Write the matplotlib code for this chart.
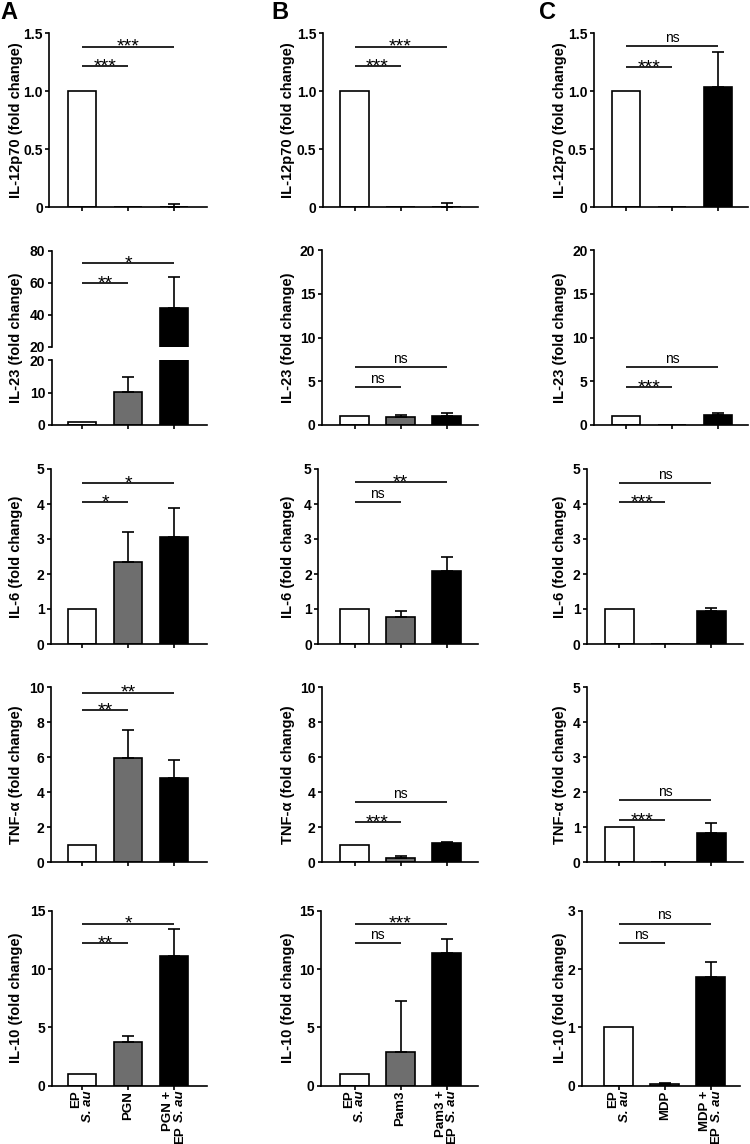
import matplotlib.pyplot as plt
import numpy as np

plt.rcParams['font.family'] = ['Liberation Sans', 'DejaVu Sans']
plt.rcParams['font.weight'] = 'bold'

# --- data (fold change, mean and upper error) ---
# x labels: lines of (text, italic?) pieces
labels_A = [[[("EP", False)], [("S. au", True)]], [[("PGN", False)]],
            [[("PGN +", False)], [("EP", False), ("S. au", True)]]]
labels_B = [[[("EP", False)], [("S. au", True)]], [[("Pam3", False)]],
            [[("Pam3 +", False)], [("EP", False), ("S. au", True)]]]
labels_C = [[[("EP", False)], [("S. au", True)]], [[("MDP", False)]],
            [[("MDP +", False)], [("EP", False), ("S. au", True)]]]

cytokines = ["IL-12p70", "IL-23", "IL-6", "TNF-α", "IL-10"]

il12_A = [1.0, 0.0, 0.005];  il12_A_err = [0.0, 0.0, 0.02]
il12_B = [1.0, 0.0, 0.005];  il12_B_err = [0.0, 0.0, 0.035]
il12_C = [1.0, 0.0, 1.04];   il12_C_err = [0.0, 0.0, 0.30]

il23_A = [0.8, 10.3, 44.0];  il23_A_err = [0.0, 4.5, 19.5]
il23_B = [1.0, 0.95, 1.0];   il23_B_err = [0.0, 0.25, 0.4]
il23_C = [1.0, 0.0, 1.2];    il23_C_err = [0.0, 0.0, 0.2]

il6_A = [1.0, 2.35, 3.05];   il6_A_err = [0.0, 0.85, 0.85]
il6_B = [1.0, 0.77, 2.1];    il6_B_err = [0.0, 0.16, 0.4]
il6_C = [1.0, 0.0, 0.93];    il6_C_err = [0.0, 0.0, 0.1]

tnf_A = [1.0, 5.95, 4.8];    tnf_A_err = [0.0, 1.6, 1.05]
tnf_B = [1.0, 0.22, 1.1];    tnf_B_err = [0.0, 0.13, 0.08]
tnf_C = [1.0, 0.0, 0.85];    tnf_C_err = [0.0, 0.0, 0.26]

il10_A = [1.0, 3.75, 11.1];  il10_A_err = [0.0, 0.55, 2.3]
il10_B = [1.0, 2.9, 11.35];  il10_B_err = [0.0, 4.35, 1.2]
il10_C = [1.0, 0.03, 1.87];  il10_C_err = [0.0, 0.01, 0.25]

# significance brackets: (from, to, height, label)
sig_il12_A = [(0, 1, 1.215, "***"), (0, 2, 1.385, "***")]
sig_il12_B = [(0, 1, 1.215, "***"), (0, 2, 1.385, "***")]
sig_il12_C = [(0, 1, 1.21, "***"), (0, 2, 1.39, "ns")]
sig_il23_A = [(0, 1, 60, "**"), (0, 2, 72.5, "*")]
sig_il23_B = [(0, 1, 4.3, "ns"), (0, 2, 6.66, "ns")]
sig_il23_C = [(0, 1, 4.3, "***"), (0, 2, 6.66, "ns")]
sig_il6_A = [(0, 1, 4.05, "*"), (0, 2, 4.6, "*")]
sig_il6_B = [(0, 1, 4.06, "ns"), (0, 2, 4.63, "**")]
sig_il6_C = [(0, 1, 4.05, "***"), (0, 2, 4.6, "ns")]
sig_tnf_A = [(0, 1, 8.7, "**"), (0, 2, 9.7, "**")]
sig_tnf_B = [(0, 1, 2.3, "***"), (0, 2, 3.43, "ns")]
sig_tnf_C = [(0, 1, 1.2, "***"), (0, 2, 1.77, "ns")]
sig_il10_A = [(0, 1, 12.2, "**"), (0, 2, 13.9, "*")]
sig_il10_B = [(0, 1, 12.2, "ns"), (0, 2, 13.9, "***")]
sig_il10_C = [(0, 1, 2.45, "ns"), (0, 2, 2.78, "ns")]

yticks_il12 = [0, 0.5, 1.0, 1.5]
yticks_il23 = [0, 5, 10, 15, 20]
yticks_il23_low = [0, 10, 20]
yticks_il23_high = [20, 40, 60, 80]
yticks_il6 = [0, 1, 2, 3, 4, 5]
yticks_tnf = [0, 2, 4, 6, 8, 10]
yticks_tnf_C = [0, 1, 2, 3, 4, 5]
yticks_il10 = [0, 5, 10, 15]
yticks_il10_C = [0, 1, 2, 3]

bar_colors = ['white', '#6e6e6e', 'black']

# --- layout (pixels) ---
W, H = 750, 1144
row_top = [33.3, 250.3, 469.0, 687.4, 910.7]
row_bot = [207.3, 425.0, 644.0, 862.3, 1085.7]
spacing = 46.0
col_left = {"A": [49.3, 51.7, 51.0, 51.0, 51.7],
            "B": [322.7, 321.7, 318.3, 321.7, 320.7],
            "C": [594.0, 594.0, 587.0, 587.0, 581.7]}
col_right = {"A": [206.5] * 5, "B": [478.0] * 5,
             "C": [748.0, 748.0, 742.5, 742.5, 740.0]}
col_bar0 = {"A": [82.0] * 5, "B": [354.5] * 5,
            "C": [626.0, 626.0, 619.3, 619.3, 618.7]}
ylabel_right = {"A": 23.0, "B": 295.0, "C": 567.0}
letter_x = {"A": 0.0, "B": 271.0, "C": 539.0}

LW = 1.2
XFS = 9.5
fig = plt.figure(figsize=(W / 100, H / 100), dpi=100)
renderer = fig.canvas.get_renderer()


def make_axes(col, row, top=None, bot=None):
    top = row_top[row] if top is None else top
    bot = row_bot[row] if bot is None else bot
    left, right, b0 = col_left[col][row], col_right[col][row], col_bar0[col][row]
    ax = fig.add_axes([left / W, 1 - bot / H, (right - left) / W, (bot - top) / H])
    ax.set_xlim((left - b0) / spacing, (right - b0) / spacing)
    for s in ['top', 'right']:
        ax.spines[s].set_visible(False)
    for s in ['left', 'bottom']:
        ax.spines[s].set_linewidth(LW)
    ax.tick_params(axis='both', width=LW, length=3.2, pad=1.5, labelsize=10)
    ax.set_xticks([0, 1, 2])
    ax.set_xticklabels([])
    return ax


def fmt(v):
    return str(v) if isinstance(v, float) and v != 0 else str(int(v))


def draw_bars(ax, vals, errs):
    x = np.arange(3)
    ax.bar(x, vals, width=0.63, color=bar_colors, edgecolor='black', linewidth=LW, zorder=2)
    errs = np.array(errs)
    m = errs > 0
    ax.errorbar(x[m], np.array(vals)[m], yerr=[np.zeros(m.sum()), errs[m]], fmt='none',
                ecolor='black', elinewidth=LW, capsize=4.5, capthick=LW, zorder=3)


def draw_sig(ax, sigs):
    for i, j, y, s in sigs:
        ax.plot([i, j], [y, y], color='black', lw=LW, clip_on=False, solid_capstyle='butt')
        if s == "ns":
            ax.annotate(s, ((i + j) / 2, y), xytext=(0, 3), textcoords='offset points',
                        ha='center', va='baseline', fontsize=10, fontweight='normal')
        else:
            ax.annotate(s, ((i + j) / 2, y), xytext=(0, -3.8), textcoords='offset points',
                        ha='center', va='baseline', fontsize=14, fontweight='normal')


def draw_xlabels(ax, labels):
    # rotated labels read bottom-to-top: each line ends just under the axis,
    # so its pieces are stacked downwards starting from the last one
    space = 0.278 * XFS
    for i, lines in enumerate(labels):
        n = len(lines)
        for k, pieces in enumerate(lines):
            dx = (k - (n - 1) / 2) * 8.4
            dy = -3.6
            for text, italic in reversed(pieces):
                t = ax.annotate(text, (i, 0), xycoords=('data', 'axes fraction'),
                                xytext=(dx, dy), textcoords='offset points',
                                rotation=90, ha='center', va='top', fontsize=XFS,
                                fontstyle='italic' if italic else 'normal')
                h = t.get_window_extent(renderer).height * 72 / fig.dpi
                dy -= h + space


def set_ylabel(ax, col, row, text, ycenter=0.5):
    ax.set_ylabel(text + " (fold change)", fontsize=10.5, fontweight='bold')
    left, right = col_left[col][row], col_right[col][row]
    ax.yaxis.set_label_coords((ylabel_right[col] - left) / (right - left), ycenter)


def simple_panel(col, row, vals, errs, sigs, yticks):
    ax = make_axes(col, row)
    draw_bars(ax, vals, errs)
    ax.set_ylim(0, yticks[-1])
    ax.set_yticks(yticks)
    ax.set_yticklabels([fmt(t) for t in yticks])
    draw_sig(ax, sigs)
    set_ylabel(ax, col, row, cytokines[row])
    return ax


panels = {
    "A": [(il12_A, il12_A_err, sig_il12_A, yticks_il12), None,
          (il6_A, il6_A_err, sig_il6_A, yticks_il6),
          (tnf_A, tnf_A_err, sig_tnf_A, yticks_tnf),
          (il10_A, il10_A_err, sig_il10_A, yticks_il10)],
    "B": [(il12_B, il12_B_err, sig_il12_B, yticks_il12),
          (il23_B, il23_B_err, sig_il23_B, yticks_il23),
          (il6_B, il6_B_err, sig_il6_B, yticks_il6),
          (tnf_B, tnf_B_err, sig_tnf_B, yticks_tnf),
          (il10_B, il10_B_err, sig_il10_B, yticks_il10)],
    "C": [(il12_C, il12_C_err, sig_il12_C, yticks_il12),
          (il23_C, il23_C_err, sig_il23_C, yticks_il23),
          (il6_C, il6_C_err, sig_il6_C, yticks_il6),
          (tnf_C, tnf_C_err, sig_tnf_C, yticks_tnf_C),
          (il10_C, il10_C_err, sig_il10_C, yticks_il10_C)],
}
xlabels = {"A": labels_A, "B": labels_B, "C": labels_C}

for col in ["A", "B", "C"]:
    for row in range(5):
        p = panels[col][row]
        if p is None:
            continue
        ax = simple_panel(col, row, *p)
        if row == 4:
            draw_xlabels(ax, xlabels[col])
    fig.text(letter_x[col] / W, 1 - 1 / H, col, fontsize=17, fontweight='bold',
             ha='left', va='top')

# broken y axis for IL-23 in column A
up_top, up_bot, lo_top, lo_bot = 250.7, 346.7, 360.0, 425.0
ax_hi = make_axes("A", 1, up_top, up_bot)
ax_lo = make_axes("A", 1, lo_top, lo_bot)
for ax, ticks in [(ax_hi, yticks_il23_high), (ax_lo, yticks_il23_low)]:
    draw_bars(ax, il23_A, il23_A_err)
    ax.set_ylim(ticks[0], ticks[-1])
    ax.set_yticks(ticks)
    ax.set_yticklabels([fmt(t) for t in ticks])
ax_hi.spines['bottom'].set_visible(False)
ax_hi.tick_params(axis='x', length=0)
draw_sig(ax_hi, sig_il23_A)
ymid = (up_bot - (up_top + lo_bot) / 2) / (up_bot - up_top)
set_ylabel(ax_hi, "A", 1, cytokines[1], ycenter=ymid)

fig.savefig("out.png", dpi=100)
